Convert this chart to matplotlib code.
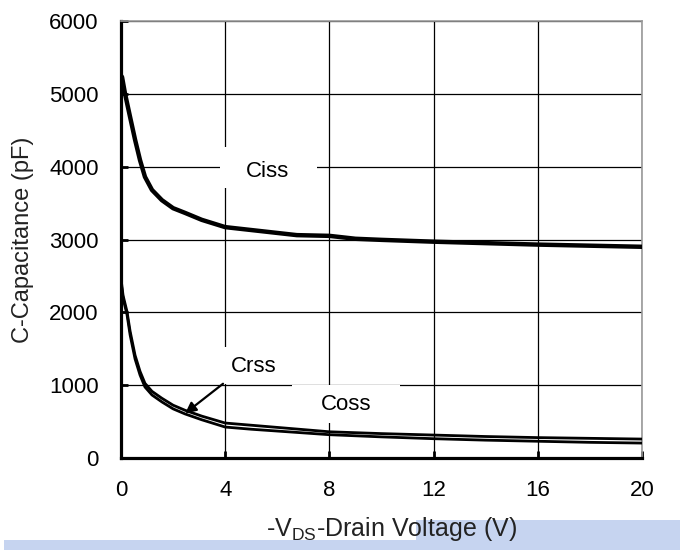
import matplotlib
matplotlib.use("Agg")
import matplotlib.pyplot as plt
from matplotlib.patches import Rectangle

plt.rcParams["font.family"] = ["Liberation Sans", "DejaVu Sans"]

# values
v_ciss = [0, 0.04, 0.15, 0.35, 0.54, 0.73, 0.92, 1.19, 1.57, 2.0, 2.46, 3.1, 4,
          5, 6, 6.75, 8, 9, 10, 12, 14, 16, 18, 20]
ciss = [5250, 5230, 5010, 4680, 4370, 4090, 3860, 3680, 3540, 3430, 3365, 3270, 3170,
        3130, 3090, 3060, 3050, 3010, 2995, 2970, 2950, 2930, 2915, 2900]

v_low = [0, 0.08, 0.23, 0.35, 0.54, 0.73, 0.92, 1.19, 1.57, 2.0, 2.46, 3.1, 4,
         5, 6, 7, 8, 10, 12, 14, 16, 18, 20]
coss = [2460, 2230, 2010, 1740, 1410, 1190, 1025, 915, 820, 725, 655, 575, 480,
        450, 420, 390, 360, 335, 315, 295, 280, 270, 260]
crss = [2420, 2190, 1970, 1690, 1360, 1140, 975, 865, 770, 675, 605, 525, 425,
        395, 370, 345, 320, 290, 265, 245, 230, 215, 205]

x_ticks = [0, 4, 8, 12, 16, 20]
y_ticks = [0, 1000, 2000, 3000, 4000, 5000, 6000]

fig = plt.figure(figsize=(6.8, 5.5), dpi=100)
ax = fig.add_axes([121 / 680, 1 - 458 / 550, 521 / 680, 437 / 550])

ax.set_xlim(0, 20)
ax.set_ylim(0, 6000)
ax.set_xticks(x_ticks)
ax.set_yticks(y_ticks)
ax.grid(True, color="black", lw=0.9, zorder=0)
ax.set_axisbelow(True)

# white boxes behind the curve labels (they cut the grid)
for x0, y0, w, h in [(3.8, 3707, 3.72, 563), (3.88, 1020, 2.68, 504), (6.56, 479, 4.14, 521)]:
    ax.add_patch(Rectangle((x0, y0), w, h, facecolor="white", edgecolor="none", zorder=1))

ax.plot(v_ciss, ciss, color="black", lw=3.2, zorder=3, solid_joinstyle="round")
ax.plot(v_low, coss, color="black", lw=2.0, zorder=3, solid_joinstyle="round")
ax.plot(v_low, crss, color="black", lw=2.0, zorder=3, solid_joinstyle="round")

ax.text(5.64, 3940, "Ciss", fontsize=16, ha="center", va="center", zorder=4)
ax.text(8.64, 728, "Coss", fontsize=16, ha="center", va="center", zorder=4)
ax.text(5.1, 1250, "Crss", fontsize=16, ha="center", va="center", zorder=4)
ax.annotate("", xy=(2.38, 590), xytext=(4.0, 1043),
            arrowprops=dict(arrowstyle="-|>", color="black", lw=1.6, mutation_scale=16),
            zorder=4)

for s in ["left", "bottom"]:
    ax.spines[s].set_linewidth(2.3)
    ax.spines[s].set_color("black")
for s in ["top", "right"]:
    ax.spines[s].set_linewidth(1.2)
    ax.spines[s].set_color("#9a9a9a")

ax.tick_params(direction="in", length=5, width=2, labelsize=16, colors="black")
ax.tick_params(axis="y", pad=16)
ax.tick_params(axis="x", pad=16)

fig.text(23 / 680, 1 - 240 / 550, "C-Capacitance (pF)", rotation=90, fontsize=17,
         ha="center", va="center", color="#222222")

# light blue band at the bottom
fig.patches.append(Rectangle((4 / 680, 0), 676 / 680, 10 / 550, transform=fig.transFigure,
                             facecolor="#c6d4f0", edgecolor="none", zorder=0))
fig.patches.append(Rectangle((416 / 680, 10 / 550), 264 / 680, 20 / 550, transform=fig.transFigure,
                             facecolor="#c6d4f0", edgecolor="none", zorder=0))

fig.text(391 / 680, 1 - 529 / 550, r"-V$_{\mathregular{DS}}$-Drain Voltage (V)", fontsize=18,
         ha="center", va="center", color="#222222", zorder=5)

fig.savefig("out.png", dpi=100)
